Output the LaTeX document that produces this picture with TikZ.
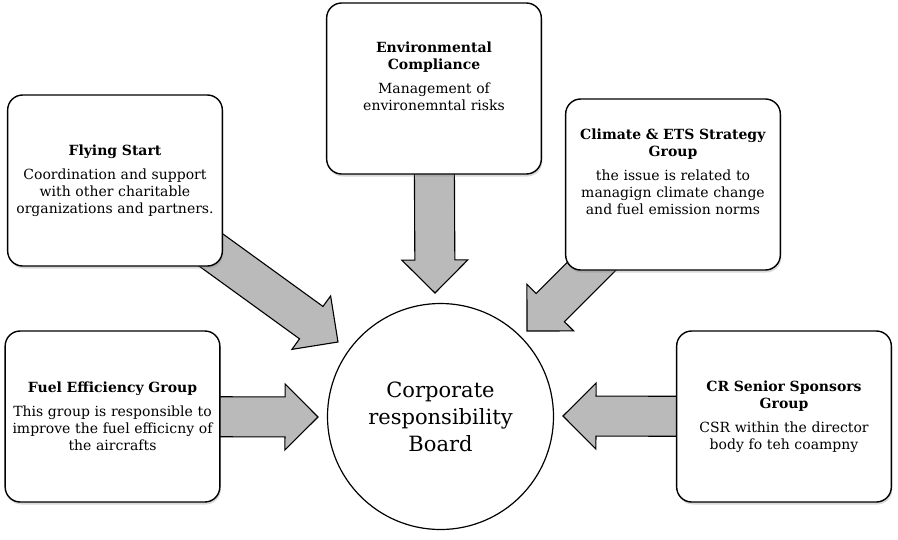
\documentclass[tikz,border=0pt]{standalone}
\usepackage{fontspec}
\setmainfont{DejaVu Serif}
\usetikzlibrary{calc,shadows,backgrounds}

\tikzset{
  groupbox/.style={draw, line width=1.4pt, rounded corners=15pt, fill=white,
    minimum width=214pt, minimum height=171pt, text width=208pt, align=center,
    font=\fontsize{14}{17}\selectfont,
    drop shadow={shadow xshift=1pt, shadow yshift=-2.5pt, opacity=0.3}},
  board/.style={draw, circle, line width=1.2pt, fill=white, minimum size=226pt,
    align=center, font=\fontsize{21}{27}\selectfont},
  fatarrow/.style={draw, line width=1.1pt, fill=black!27, line join=miter}
}

% fat arrow from the centre of a box to a tip point
\newcommand{\bigarrow}[2]{%
  \path ($(#2)!33pt!(#1.center)$) coordinate (base);
  \draw[fatarrow] ($(#1.center)!20pt!90:(#2)$) -- ($(base)!20pt!90:(#2)$)
    -- ($(base)!33pt!90:(#2)$) -- (#2) -- ($(base)!33pt!-90:(#2)$)
    -- ($(base)!20pt!-90:(#2)$) -- ($(#1.center)!20pt!-90:(#2)$) -- cycle;
}

\begin{document}
\begin{tikzpicture}[x=1pt,y=-1pt]
  \useasboundingbox (0,0) rectangle (898,539);

  \node[board] (crb) at (440.5,416.5) {Corporate\\responsibility\\Board};

  \node[groupbox] (fly) at (115,180.5)
    {\textbf{Flying Start}\\[7pt]Coordination and support\\with other charitable\\organizations and partners.};
  \node[groupbox] (env) at (434,88.5)
    {\textbf{Environmental}\\\textbf{Compliance}\\[7pt]Management of\\environemntal risks\\[8pt]\mbox{}};
  \node[groupbox] (ets) at (673,184.5)
    {\textbf{Climate \& ETS Strategy}\\\textbf{Group}\\[7pt]the issue is related to\\managign climate change\\and fuel emission norms\\[8pt]\mbox{}};
  \node[groupbox] (fuel) at (112.5,416.5)
    {\textbf{Fuel Efficiency Group}\\[7pt]This group is responsible to\\improve the fuel efficicny of\\the aircrafts};
  \node[groupbox] (crs) at (784,416.5)
    {\textbf{CR Senior Sponsors}\\\textbf{Group}\\[7pt]CSR within the director\\body fo teh coampny};

  % arrow tips next to the board
  \coordinate (flytip) at (338,342);
  \coordinate (envtip) at (435,293);
  \coordinate (etstip) at (527,331);
  \coordinate (fueltip) at (318,417);
  \coordinate (crstip) at (563,416);

  \begin{scope}[on background layer]
    \bigarrow{fly}{flytip}
    \bigarrow{env}{envtip}
    \bigarrow{ets}{etstip}
    \bigarrow{fuel}{fueltip}
    \bigarrow{crs}{crstip}
  \end{scope}
\end{tikzpicture}
\end{document}
